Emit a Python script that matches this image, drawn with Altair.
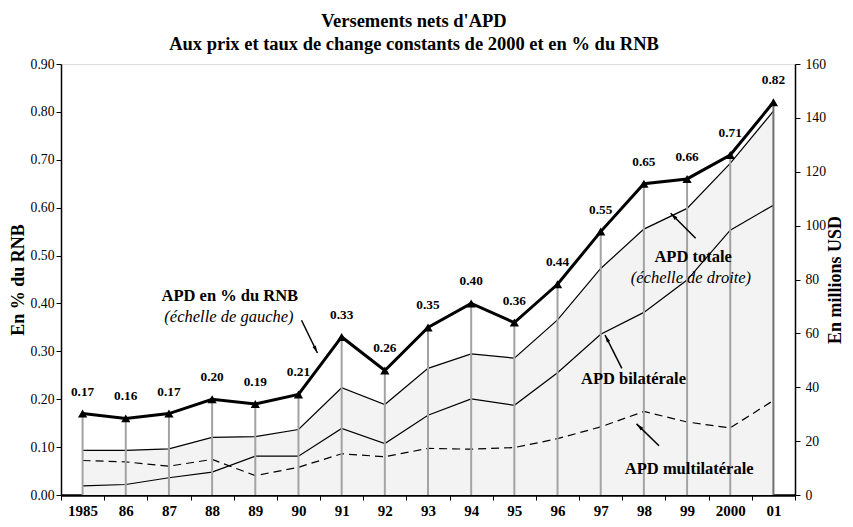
import altair as alt
import pandas as pd

# ---------------- data ----------------
years = list(range(1985, 2002))
pct_rnb = [0.17, 0.16, 0.17, 0.20, 0.19, 0.21, 0.33, 0.26, 0.35, 0.40,
           0.36, 0.44, 0.55, 0.65, 0.66, 0.71, 0.82]
apd_totale = [16.6, 16.6, 17.1, 21.4, 21.7, 24.3, 39.8, 33.6, 47.0, 52.4,
              50.8, 65.0, 84.1, 98.7, 106.4, 123.1, 142.5]
apd_bilaterale = [3.4, 3.9, 6.4, 8.5, 14.4, 14.4, 24.7, 19.1, 29.6, 35.7,
                  33.3, 45.4, 59.7, 67.8, 79.8, 98.3, 107.6]
apd_multilaterale = [12.8, 12.3, 10.7, 13.2, 7.2, 10.3, 15.3, 14.2, 17.3, 17.0,
                     17.6, 20.9, 25.3, 31.0, 27.1, 24.9, 35.1]
pct_labels = ["%.2f" % v for v in pct_rnb]

# annotations (data coordinates)
pct_ann_bold = ["APD en % du RNB"]
pct_ann_bold_x = [1988.41]
pct_ann_bold_y = [0.4155]
pct_ann_ital = ["(échelle de gauche)"]
pct_ann_ital_x = [1988.39]
pct_ann_ital_y = [0.3717]
pct_arrow_x = [1990.07]
pct_arrow_y = [0.365]
pct_arrow_x2 = [1990.44]
pct_arrow_y2 = [0.2965]
pct_arrow_angle = [154]

usd_ann_bold = ["APD totale", "APD bilatérale", "APD multilatérale"]
usd_ann_bold_x = [1999.14, 1997.76, 1999.05]
usd_ann_bold_y = [88.5, 43.1, 9.65]
usd_ann_ital = ["(échelle de droite)"]
usd_ann_ital_x = [1999.09]
usd_ann_ital_y = [80.7]
usd_arrow_x = [1999.20, 1997.49, 1998.35]
usd_arrow_y = [95.3, 47.0, 18.3]
usd_arrow_x2 = [1998.62, 1997.10, 1997.83]
usd_arrow_y2 = [104.6, 59.4, 26.4]
usd_arrow_angle = [315, 333, 314]

# ---------------- tables ----------------
df = pd.DataFrame({
    "year": years, "pct": pct_rnb, "label": pct_labels,
    "zero": [0] * len(years),
    "totale": apd_totale, "bilat": apd_bilaterale, "multi": apd_multilaterale,
})
pct_bold_df = pd.DataFrame({"year": pct_ann_bold_x, "pct": pct_ann_bold_y, "t": pct_ann_bold})
pct_ital_df = pd.DataFrame({"year": pct_ann_ital_x, "pct": pct_ann_ital_y, "t": pct_ann_ital})
pct_arrow_df = pd.DataFrame({"year": pct_arrow_x, "pct": pct_arrow_y,
                             "year2": pct_arrow_x2, "pct2": pct_arrow_y2,
                             "angle": pct_arrow_angle})
usd_bold_df = pd.DataFrame({"year": usd_ann_bold_x, "usd": usd_ann_bold_y, "t": usd_ann_bold})
usd_ital_df = pd.DataFrame({"year": usd_ann_ital_x, "usd": usd_ann_ital_y, "t": usd_ann_ital})
usd_arrow_df = pd.DataFrame({"year": usd_arrow_x, "usd": usd_arrow_y,
                             "year2": usd_arrow_x2, "usd2": usd_arrow_y2,
                             "angle": usd_arrow_angle})

FONT = "Liberation Serif"
ARROW = "M0,0L-0.45,1.9L0.45,1.9Z"

x_values = sorted(years + [y - 0.5 for y in years] + [2001.5])
x_axis = alt.Axis(
    values=x_values, title=None, grid=False,
    labelExpr=("datum.value % 1 != 0 ? '' : "
               "(datum.value == 1985 || datum.value == 2000) ? toString(datum.value) : "
               "substring(toString(datum.value), 2)"),
    tickOpacity={"condition": {"test": "datum.value % 1 != 0", "value": 1}, "value": 0},
    labelOverlap=False, labelFlush=False,
    labelFont=FONT, labelFontSize=15, labelFontWeight="bold", labelColor="black",
    labelPadding=3.5, tickSize=5, tickColor="black", tickWidth=1,
    domainColor="black", domainWidth=2.5,
)
x_scale = alt.Scale(domain=[1984.5, 2001.5], nice=False, zero=False)
X = alt.X("year:Q", scale=x_scale, axis=x_axis, title=None)

pct_scale = alt.Scale(domain=[0, 0.9], nice=False)
pct_axis = alt.Axis(
    orient="left", values=[round(i * 0.1, 2) for i in range(10)], format=".2f",
    title="En % du RNB", titleFont=FONT, titleFontSize=18, titleFontWeight="bold",
    titleColor="black", titlePadding=3,
    labelFont=FONT, labelFontSize=13.7, labelColor="black", labelPadding=2,
    tickSize=5, tickColor="black", domainColor="black", domainWidth=1.5, grid=False,
)
usd_scale = alt.Scale(domain=[0, 160], nice=False)
usd_axis = alt.Axis(
    orient="right", values=list(range(0, 161, 20)),
    title="En millions USD", titleFont=FONT, titleFontSize=18, titleFontWeight="bold",
    titleColor="black", titleAngle=270, titleBaseline="top", titlePadding=1,
    labelFont=FONT, labelFontSize=13.7, labelColor="black", labelPadding=5,
    tickSize=5, tickColor="black", domainColor="black", domainWidth=1.5, grid=False,
)
Ypct = alt.Y("pct:Q", scale=pct_scale, axis=pct_axis)

base = alt.Chart(df)

# ---- USD group (right axis) ----
area = base.mark_area(color="#f3f3f3", opacity=1).encode(
    x=X, y=alt.Y("totale:Q", scale=usd_scale, axis=usd_axis))
tot_line = base.mark_line(color="black", strokeWidth=1.2).encode(
    x=X, y=alt.Y("totale:Q", scale=usd_scale, axis=usd_axis))
bil_line = base.mark_line(color="black", strokeWidth=1.2).encode(
    x=X, y=alt.Y("bilat:Q", scale=usd_scale, axis=usd_axis))
mul_line = base.mark_line(color="black", strokeWidth=1.2, strokeDash=[8, 5]).encode(
    x=X, y=alt.Y("multi:Q", scale=usd_scale, axis=usd_axis))
usd_group = alt.layer(area, tot_line, bil_line, mul_line)

# ---- PCT group (left axis) ----
drops = base.mark_rule(strokeWidth=2).encode(
    x=X, y=Ypct, y2=alt.Y2("zero:Q"),
    color=alt.condition(alt.datum.year == 2001, alt.value("#707070"), alt.value("#a3a3a3")))
pct_line = base.mark_line(color="black", strokeWidth=3).encode(x=X, y=Ypct)
pct_pts = base.mark_point(shape="triangle-up", filled=True, color="black",
                          size=85, opacity=1).encode(x=X, y=Ypct)
pct_txt = base.mark_text(font=FONT, fontSize=13.3, fontWeight="bold", color="black",
                         dy=-22, baseline="middle").encode(x=X, y=Ypct, text="label:N")
p_bold = alt.Chart(pct_bold_df).mark_text(
    font=FONT, fontSize=16.5, fontWeight="bold", color="black", baseline="middle"
).encode(x=X, y=Ypct, text="t:N")
p_ital = alt.Chart(pct_ital_df).mark_text(
    font=FONT, fontSize=16.5, fontStyle="italic", color="black", baseline="middle"
).encode(x=X, y=Ypct, text="t:N")
p_arrow = alt.Chart(pct_arrow_df).mark_rule(color="black", strokeWidth=1.5).encode(
    x=X, y=Ypct, x2=alt.X2("year2:Q"), y2=alt.Y2("pct2:Q"))
p_head = alt.Chart(pct_arrow_df).mark_point(
    shape=ARROW, filled=True, color="black", size=64, opacity=1
).encode(x=alt.X("year2:Q", scale=x_scale, axis=x_axis, title=None),
         y=alt.Y("pct2:Q", scale=pct_scale, axis=pct_axis),
         angle=alt.Angle("angle:Q", scale=None))
pct_group = alt.layer(drops, pct_line, pct_pts, pct_txt, p_bold, p_ital, p_arrow, p_head)

# ---- USD annotations on top ----
usd_scale2 = alt.Scale(domain=[0, 160], nice=False)
Yusd2 = alt.Y("usd:Q", scale=usd_scale2, axis=None)
u_bold = alt.Chart(usd_bold_df).mark_text(
    font=FONT, fontSize=16.5, fontWeight="bold", color="black", baseline="middle"
).encode(x=X, y=Yusd2, text="t:N")
u_ital = alt.Chart(usd_ital_df).mark_text(
    font=FONT, fontSize=16.5, fontStyle="italic", color="black", baseline="middle"
).encode(x=X, y=Yusd2, text="t:N")
u_arrow = alt.Chart(usd_arrow_df).mark_rule(color="black", strokeWidth=1.5).encode(
    x=X, y=Yusd2, x2=alt.X2("year2:Q"), y2=alt.Y2("usd2:Q"))
u_head = alt.Chart(usd_arrow_df).mark_point(
    shape=ARROW, filled=True, color="black", size=64, opacity=1
).encode(x=alt.X("year2:Q", scale=x_scale, axis=x_axis, title=None),
         y=alt.Y("usd2:Q", scale=usd_scale2, axis=None),
         angle=alt.Angle("angle:Q", scale=None))
usd_ann = alt.layer(u_bold, u_ital, u_arrow, u_head)

chart = alt.layer(usd_group, pct_group, usd_ann).resolve_scale(
    y="independent"
).properties(
    width=734, height=431,
    autosize=alt.AutoSizeParams(type="none"),
    padding={"left": 53, "top": 56, "right": 50, "bottom": 24},
    title=alt.TitleParams(
        text=["Versements nets d'APD",
              "Aux prix et taux de change constants de 2000 et en % du RNB"],
        font=FONT, fontSize=18.5, fontWeight="bold", color="black",
        lineHeight=23, anchor="middle", dx=-14, offset=4,
    ),
).configure_view(fill="#e0e0e0", stroke=None).configure(background="white")

chart.save("out.html", embed_options={"renderer": "svg", "actions": False})
